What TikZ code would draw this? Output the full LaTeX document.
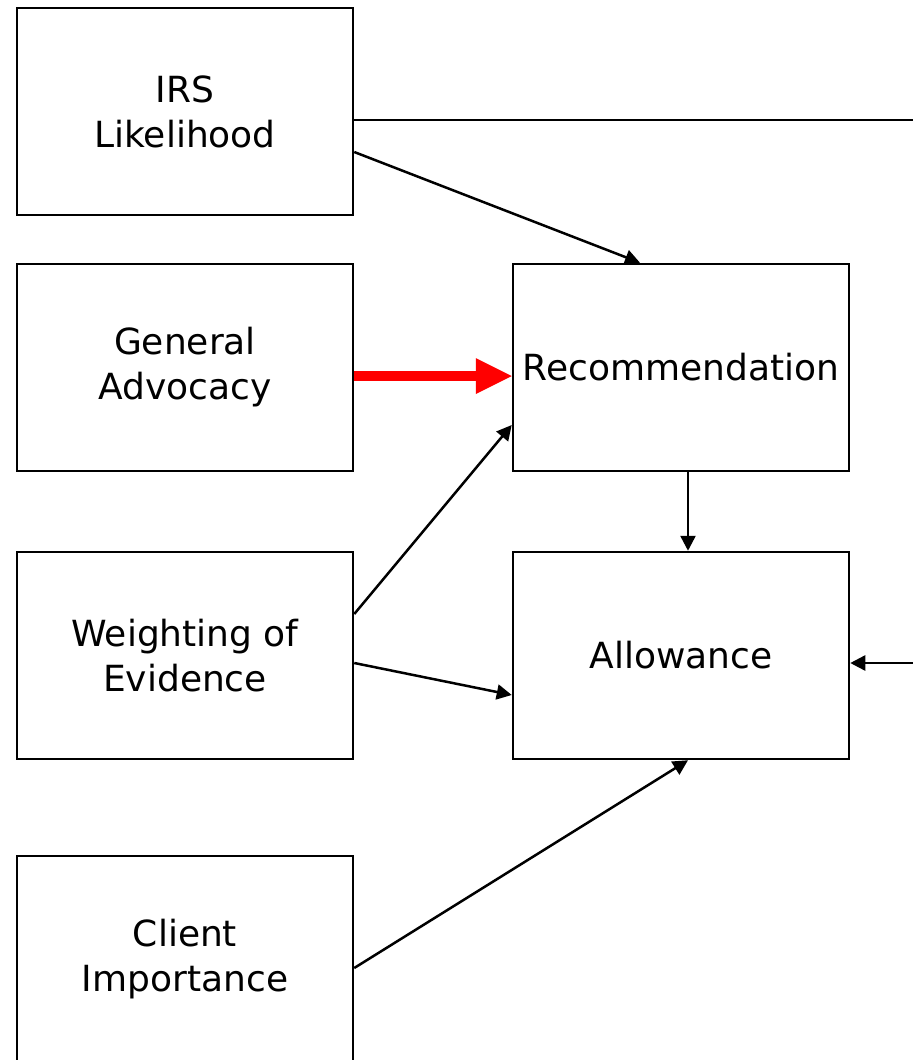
\documentclass[tikz,border=0pt]{standalone}
\usepackage{fontspec}
\setmainfont{DejaVu Sans}
\usetikzlibrary{arrows.meta}

\begin{document}
\begin{tikzpicture}[x=0.5pt, y=-0.5pt, line width=1.25pt,
    every node/.style={font=\fontsize{18}{22.5}\selectfont},
    box/.style={draw, line width=1.25pt, minimum width=168pt, minimum height=103.5pt, inner sep=0pt, align=center},
    link/.style={-{Triangle[length=7.5pt,width=7.5pt]}}]
\useasboundingbox (0,0) rectangle (913,1060);
\clip (0,0) rectangle (913,1060);
% Draw boxes
\node[box] (irs) at (185,111.5) {IRS\\Likelihood};
\node[box] (gen) at (185,367.5) {General\\Advocacy};
\node[box] (weight) at (185,655.5) {Weighting of\\Evidence};
\node[box] (client) at (185,959.5) {Client\\Importance};
\node[box] (rec) at (681,367.5) {Recommendation};
\node[box] (allow) at (681,655.5) {Allowance};
% Free ends at the right edge
\coordinate (outA) at (913,120);
\coordinate (outB) at (913,663);
% Draw links
\draw ([yshift=-4.25pt]irs.east) -- (outA);
\draw[link] ([yshift=-20.25pt]irs.east) -- ([xshift=-20.5pt]rec.north);
\draw[red, line width=5pt, -{Triangle[length=18pt,width=18pt,line width=0pt]}] ([yshift=-4.25pt]gen.east) -- ([yshift=-4.25pt]rec.west);
\draw[link] ([yshift=20.75pt]weight.east) -- ([yshift=-28.75pt]rec.west);
\draw[link] ([yshift=-3.75pt]weight.east) -- ([yshift=-19.75pt]allow.west);
\draw[link] ([yshift=-4.25pt]client.east) -- ([xshift=3.5pt]allow.south);
\draw[link] ([xshift=3.5pt]rec.south) -- ([xshift=3.5pt]allow.north);
\draw[link] (outB) -- ([yshift=-3.75pt]allow.east);
\end{tikzpicture}
\end{document}
